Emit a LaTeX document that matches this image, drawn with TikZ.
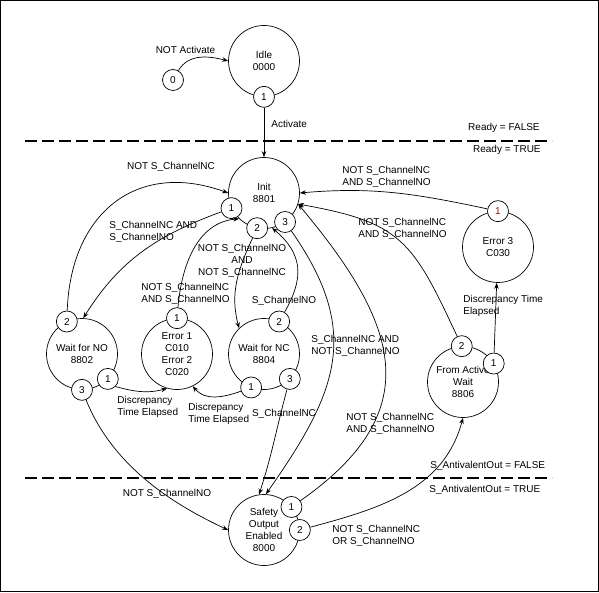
\documentclass[tikz,border=0pt]{standalone}
\usepackage{fontspec}
\setmainfont{Liberation Sans}
\usetikzlibrary{arrows.meta}
\definecolor{portred}{RGB}{140,20,20}
\begin{document}
\begin{tikzpicture}[x=1pt, y=-1pt, >={Stealth[length=6pt,width=4.5pt]}, line width=0.7pt,
    font=\fontsize{10}{12}\selectfont,
    state/.style={circle, draw, minimum size=71pt, inner sep=0pt, align=center},
    port/.style={circle, draw, fill=white, minimum size=21pt, inner sep=0pt},
    lbl/.style={inner sep=0pt, align=left},
    divider/.style={line width=2.6pt, dash pattern=on 12pt off 5pt}]
    \useasboundingbox (0,0) rectangle (599,593);
    \draw[line width=1pt] (0.5,0.5) rectangle (598.2,591.6);
    \draw[divider] (25,141) -- (552,141);
    \draw[divider] (25,478) -- (552,478);

    \node[state] (idle) at (264,61) {Idle\\0000};
    \node[state] (init) at (264,193) {Init\\8801};
    \node[state] (waitno) at (82,354) {Wait for NO\\8802};
    \node[state] (err12) at (177,354) {Error 1\\C010\\Error 2\\C020};
    \node[state] (waitnc) at (264,354) {Wait for NC\\8804};
    \node[state] (err3) at (498,247) {Error 3\\C030};
    \node[state] (fromact) at (463,382) {From Active\\Wait\\8806};
    \node[state] (safe) at (264,530) {Safety\\Output\\Enabled\\8000};

    \node[port] (zero) at (173,80) {0};
    \node[port] (idle1) at (idle.270) {1};
    \node[port] (init1) at (init.205) {1};
    \node[port] (init2) at (init.259) {2};
    \node[port] (init3) at (init.306) {3};
    \node[port] (waitno2) at (waitno.115) {2};
    \node[port] (waitno1) at (waitno.316) {1};
    \node[port] (waitno3) at (waitno.270) {3};
    \node[port] (err1) at (err12.90) {1};
    \node[port] (waitnc2) at (waitnc.65) {2};
    \node[port] (waitnc1) at (waitnc.249) {1};
    \node[port] (waitnc3) at (waitnc.316) {3};
    \node[port, text=portred] (err3a) at (err3.90) {1};
    \node[port] (fromact2) at (fromact.92) {2};
    \node[port] (fromact1) at (fromact.31) {1};
    \node[port] (safe1) at (safe.40) {1};
    \node[port] (safe2) at (safe.0) {2};

    \draw[->] (zero) to[out=60, in=165] (idle.west);
    \draw[->] (idle1) -- (init);
    \draw[->] (init1) to[out=200, in=58] (waitno.88);
    \draw[->] (waitno2) to[out=88, in=160, looseness=1.25] (init.west);
    \draw[->] (init2) to[out=245, in=105] (waitnc.134);
    \draw[->] (err1) to[out=85, in=185] (init.226);
    \draw[->] (waitnc2) to[out=60, in=-40, looseness=1.2] (init.283);
    \draw[->] (init3) to[out=-55, in=55, looseness=1.2] (safe.87);
    \draw[->] (safe1) to[out=35, in=-50, looseness=1.35] (init.-18);
    \draw[->] (fromact2) to[out=115, in=-10, looseness=1.3] (init.-18);
    \draw[->] (err3a) to[out=168, in=5] (init.east);
    \draw[->] (fromact1) -- (err3);
    \draw[->] (safe2) to[out=15, in=-105] (fromact.south);
    \draw[->] (waitno3) to[out=-68, in=155, looseness=0.9] (safe.west);
    \draw[->] (waitno1.-45) to[out=-15, in=195] (err12.254);
    \draw[->] (waitnc1) to[out=200, in=-50] (err12.-64);
    \draw[->] (waitnc3) to[out=-105, in=72] (safe.98);

    \node[lbl] (l-notact) at (185.5,50) {NOT Activate};
    \node[lbl, anchor=west] (l-act) at (271,124) {Activate};
    \node[lbl, anchor=east] (l-rdyf) at (540,128) {Ready = FALSE};
    \node[lbl, anchor=east] (l-rdyt) at (541,150) {Ready = TRUE};
    \node[lbl] (l-nnc) at (171,167) {NOT S\_ChannelNC};
    \node[lbl, anchor=west] (l-ncno) at (109,232) {S\_ChannelNC AND\\S\_ChannelNO};
    \node[lbl, align=center] (l-nonc) at (242,261) {NOT S\_ChannelNO\\AND\\NOT S\_ChannelNC};
    \node[lbl, anchor=west] (l-err12) at (141,294) {NOT S\_ChannelNC\\AND S\_ChannelNO};
    \node[lbl] (l-no) at (284,301) {S\_ChannelNO};
    \node[lbl, anchor=west] (l-disc1) at (117,406.5) {Discrepancy\\Time Elapsed};
    \node[lbl, anchor=west] (l-disc2) at (188,414) {Discrepancy\\Time Elapsed};
    \node[lbl] (l-nc) at (284,414) {S\_ChannelNC};
    \node[lbl, anchor=west] (l-err3) at (342,177) {NOT S\_ChannelNC\\AND S\_ChannelNO};
    \node[lbl, anchor=west] (l-fa) at (358,229) {NOT S\_ChannelNC\\AND S\_ChannelNO};
    \node[lbl, anchor=west] (l-disc3) at (463,306) {Discrepancy Time\\Elapsed};
    \node[lbl, anchor=west] (l-safe) at (311,346) {S\_ChannelNC AND\\NOT S\_ChannelNO};
    \node[lbl, anchor=west] (l-back) at (346,424) {NOT S\_ChannelNC\\AND S\_ChannelNO};
    \node[lbl, anchor=west] (l-antf) at (430,466) {S\_AntivalentOut = FALSE};
    \node[lbl, anchor=west] (l-antt) at (429,490) {S\_AntivalentOut = TRUE};
    \node[lbl] (l-nno) at (167,494) {NOT S\_ChannelNO};
    \node[lbl, anchor=west] (l-or) at (332,536) {NOT S\_ChannelNC\\OR S\_ChannelNO};
\end{tikzpicture}
\end{document}
